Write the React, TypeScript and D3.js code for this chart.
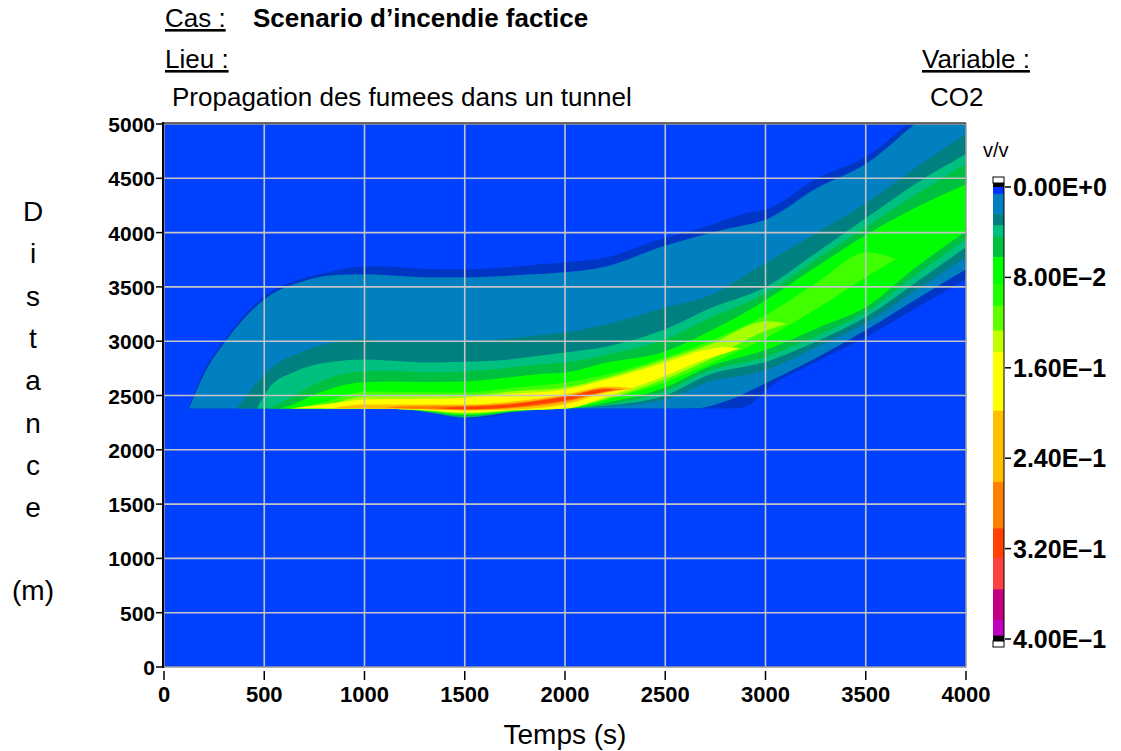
import * as d3 from 'd3';

// axes
const xTicks = [0, 500, 1000, 1500, 2000, 2500, 3000, 3500, 4000];
const yTicks = [0, 500, 1000, 1500, 2000, 2500, 3000, 3500, 4000, 4500, 5000];

// colour bar (v/v)
const legendLevels = [0, 0.006, 0.024, 0.034, 0.044, 0.062, 0.086, 0.105, 0.127, 0.146, 0.198, 0.261, 0.302, 0.328, 0.356, 0.383, 0.397];
const legendColors = ['#0030ff', '#0080c0', '#008080', '#00c080', '#00c040', '#00ff00', '#20ff00', '#60ff00', '#c0ff00', '#ffff00', '#ffc000', '#ff8000', '#ff4000', '#ff4040', '#c00080', '#c000c0'];
const legendTicks = [0, 0.08, 0.16, 0.24, 0.32, 0.4];
const legendLabels = ['0.00E+0', '8.00E\u20132', '1.60E\u20131', '2.40E\u20131', '3.20E\u20131', '4.00E\u20131'];

// CO2 bands: [temps s, distance basse m, distance haute m]
const rimBand = [
  [120, 2380, 2380], [195, 2380, 2714], [314, 2380, 3044], [414, 2380, 3266], [529, 2380, 3450],
  [678, 2380, 3570], [843, 2380, 3644], [1003, 2380, 3690], [1180, 2380, 3680], [1310, 2343, 3664],
  [1500, 2288, 3662], [1640, 2306, 3672], [1740, 2343, 3685], [1890, 2371, 3710], [2000, 2380, 3727],
  [2210, 2380, 3773], [2474, 2380, 3939], [2709, 2380, 4059], [2850, 2382, 4150], [2908, 2400, 4180],
  [3008, 2560, 4216], [3257, 2814, 4500], [3507, 3044, 4705], [3746, 3300, 5060], [4000, 3570, 5450],
];
const steelBand = [
  [125, 2380, 2380], [195, 2380, 2680], [314, 2380, 3017], [414, 2380, 3238], [529, 2380, 3422],
  [678, 2380, 3542], [843, 2380, 3607], [1003, 2380, 3616], [1180, 2380, 3600], [1310, 2346, 3590],
  [1500, 2295, 3589], [1740, 2346, 3605], [1890, 2372, 3620], [2000, 2380, 3634], [2210, 2380, 3690],
  [2474, 2380, 3865], [2650, 2382, 3960], [2798, 2445, 4030], [3008, 2620, 4124], [3257, 2850, 4410],
  [3507, 3109, 4640], [3746, 3380, 5003], [4000, 3662, 5380],
];
const tealBand = [
  [364, 2380, 2380], [464, 2380, 2620], [544, 2380, 2768], [678, 2380, 2897], [843, 2380, 2989],
  [1003, 2380, 3017], [1142, 2380, 2998], [1310, 2348, 2990], [1500, 2298, 2998], [1740, 2348, 3030],
  [1890, 2373, 3060], [2000, 2380, 3081], [2210, 2398, 3155], [2499, 2463, 3310], [2709, 2620, 3413],
  [3008, 2740, 3727], [3257, 2950, 4000], [3507, 3173, 4280], [3750, 3470, 4600], [4000, 3773, 4908],
];
const seaBand = [
  [464, 2380, 2380], [529, 2380, 2583], [643, 2380, 2712], [813, 2380, 2804], [1003, 2380, 2832],
  [1142, 2380, 2820], [1310, 2350, 2805], [1500, 2302, 2810], [1740, 2350, 2835], [1890, 2374, 2870],
  [2000, 2380, 2897], [2210, 2408, 2952], [2499, 2500, 3109], [2709, 2685, 3293], [3008, 2814, 3505],
  [3257, 3000, 3820], [3507, 3229, 4142], [3750, 3540, 4450], [4000, 3865, 4723],
];
const greenBand = [
  [529, 2380, 2380], [614, 2380, 2463], [728, 2380, 2583], [978, 2380, 2721], [1142, 2380, 2725],
  [1310, 2352, 2715], [1500, 2307, 2721], [1740, 2352, 2760], [1890, 2375, 2790], [2000, 2380, 2804],
  [2210, 2417, 2878], [2499, 2537, 3017], [2709, 2721, 3201], [3008, 2860, 3450], [3257, 3050, 3760],
  [3507, 3275, 4059], [3750, 3610, 4350], [4000, 3939, 4631],
];
const brightBand = [
  [579, 2380, 2380], [614, 2380, 2398], [778, 2380, 2528], [978, 2380, 2620], [1142, 2380, 2630],
  [1310, 2355, 2625], [1500, 2317, 2629], [1740, 2355, 2670], [1890, 2376, 2700], [2000, 2380, 2712],
  [2210, 2436, 2804], [2499, 2574, 2906], [2709, 2758, 3081], [3008, 2924, 3386], [3257, 3120, 3690],
  [3507, 3321, 3985], [3750, 3680, 4230], [4000, 4013, 4446],
];
const limeBand = [
  [650, 2380, 2380], [800, 2380, 2440], [1003, 2380, 2537], [1310, 2360, 2530], [1500, 2326, 2528],
  [1740, 2360, 2570], [2000, 2380, 2620], [2210, 2463, 2694], [2499, 2620, 2850], [2709, 2780, 2990],
  [3008, 3035, 3247], [3257, 3300, 3540], [3507, 3598, 3819], [3600, 3700, 3790], [3651, 3757, 3757],
];
const paleBand = [
  [800, 2380, 2380], [1003, 2380, 2491], [1310, 2362, 2495], [1500, 2335, 2500], [1740, 2362, 2540],
  [2000, 2380, 2574], [2210, 2472, 2666], [2499, 2650, 2830], [2709, 2820, 2960], [3008, 3100, 3183],
  [3108, 3160, 3160],
];
const yellowBand = [
  [628, 2380, 2380], [850, 2380, 2430], [1003, 2380, 2463], [1310, 2365, 2470], [1500, 2343, 2480],
  [1740, 2365, 2515], [2000, 2380, 2555], [2210, 2491, 2648], [2499, 2680, 2804], [2709, 2840, 2924],
  [2800, 2890, 2945], [2873, 2935, 2935],
];
const amberBand = [
  [830, 2380, 2380], [1003, 2380, 2417], [1310, 2370, 2417], [1500, 2362, 2417], [1740, 2370, 2445],
  [2000, 2417, 2509], [2210, 2528, 2583], [2349, 2565, 2565],
];
const orangeBand = [
  [1100, 2390, 2390], [1310, 2375, 2405], [1500, 2368, 2405], [1740, 2385, 2430], [2000, 2440, 2495],
  [2210, 2535, 2570], [2300, 2555, 2555],
];
const redBand = [
  [1352, 2385, 2385], [1500, 2372, 2398], [1740, 2395, 2420], [2000, 2455, 2490], [2210, 2540, 2560],
  [2250, 2550, 2550],
];

const bands = [rimBand, steelBand, tealBand, seaBand, greenBand, brightBand, limeBand, paleBand, yellowBand, amberBand, orangeBand, redBand];
const bandColors = ['#0036c4', '#0080c0', '#008080', '#00c080', '#00c040', '#00ff00', '#40ff00', '#a8ff00', '#ffff00', '#ffc000', '#ff8000', '#ff4000'];

const FONT = '"Liberation Sans", Arial, Helvetica, sans-serif';
const yTitle = ['D', 'i', 's', 't', 'a', 'n', 'c', 'e'];

const App = () => {
  const W = 1121, H = 751;
  const left = 164, right = 966, top = 124, bottom = 667;

  const x = d3.scaleLinear().domain([0, 4000]).range([left, right]);
  const y = d3.scaleLinear().domain([0, 5000]).range([bottom, top]);
  const c = d3.scaleLinear().domain([0, 0.4]).range([187, 639]);

  const area = d3.area<number[]>()
    .x(d => x(d[0]))
    .y0(d => y(d[1]))
    .y1(d => y(d[2]))
    .curve(d3.curveMonotoneX);

  const barX = 993, barW = 11;

  return (
    <svg width={W} height={H} style={{ position: 'absolute', left: 0, top: 0, background: '#fff' }} fontFamily={FONT}>
      <defs>
        <clipPath id="plot">
          <rect x={left} y={top} width={right - left} height={bottom - top} />
        </clipPath>
      </defs>

      {/* header */}
      <text x={165} y={27} fontSize={26} textDecoration="underline">Cas :</text>
      <text x={253} y={27} fontSize={26} fontWeight="bold">Scenario d’incendie factice</text>
      <text x={165} y={68} fontSize={26} textDecoration="underline">Lieu :</text>
      <text x={922} y={68} fontSize={26} textDecoration="underline">Variable :</text>
      <text x={172} y={106} fontSize={26}>Propagation des fumees dans un tunnel</text>
      <text x={930} y={106} fontSize={26}>CO2</text>

      {/* map */}
      <rect x={left} y={top} width={right - left} height={bottom - top} fill="#0040ff" />
      <g clipPath="url(#plot)">
        {bands.map((b, i) => (
          <path key={i} d={area(b) || ''} fill={bandColors[i]} />
        ))}
      </g>

      {/* grid */}
      <g stroke="#c4c4c4" strokeWidth={1.6}>
        {xTicks.slice(1, -1).map(t => <line key={t} x1={x(t)} x2={x(t)} y1={top} y2={bottom} />)}
        {yTicks.slice(1, -1).map(t => <line key={t} x1={left} x2={right} y1={y(t)} y2={y(t)} />)}
      </g>
      <rect x={left} y={top} width={right - left} height={bottom - top} fill="none" stroke="#9a9a9a" strokeWidth={1.5} />
      <line x1={left} x2={right} y1={top - 1} y2={top - 1} stroke="#404040" strokeWidth={1.5} />
      <line x1={left - 1} x2={left - 1} y1={top - 2} y2={bottom + 1} stroke="#000" strokeWidth={2} />

      {/* x axis */}
      {xTicks.map(t => (
        <g key={t}>
          <line x1={x(t)} x2={x(t)} y1={671} y2={680} stroke="#000" strokeWidth={1.5} />
          <text x={x(t)} y={702} fontSize={22} fontWeight="bold" textAnchor="middle">{t}</text>
        </g>
      ))}
      <text x={x(2000)} y={744} fontSize={28} textAnchor="middle">Temps (s)</text>

      {/* y axis */}
      {yTicks.map(t => (
        <g key={t}>
          <line x1={156} x2={162} y1={y(t)} y2={y(t)} stroke="#000" strokeWidth={1.5} />
          <text x={155} y={y(t) + 8} fontSize={21} fontWeight="bold" textAnchor="end">{t}</text>
        </g>
      ))}
      {yTitle.map((ch, i) => (
        <text key={i} x={33} y={221 + i * 42.3} fontSize={28} textAnchor="middle">{ch}</text>
      ))}
      <text x={33} y={600} fontSize={28} textAnchor="middle">(m)</text>

      {/* colour bar */}
      <text x={983} y={157} fontSize={20}>v/v</text>
      <rect x={barX} y={177} width={barW} height={6} fill="#fff" stroke="#000" strokeWidth={1} />
      <rect x={barX} y={183} width={barW} height={c(0) - 183} fill="#000" />
      {legendColors.map((col, i) => (
        <rect key={col} x={barX} y={c(legendLevels[i])} width={barW}
          height={c(legendLevels[i + 1]) - c(legendLevels[i]) + 0.5} fill={col} />
      ))}
      <rect x={barX} y={c(legendLevels[legendLevels.length - 1])} width={barW}
        height={c(0.4) + 2 - c(legendLevels[legendLevels.length - 1])} fill="#000" />
      <rect x={barX} y={c(0.4) + 2} width={barW} height={6} fill="#fff" stroke="#000" strokeWidth={1} />
      <line x1={barX + barW} x2={barX + barW} y1={183} y2={c(0.4) + 2} stroke="#000" strokeWidth={1} />
      {legendTicks.map((v, i) => (
        <g key={v}>
          <line x1={barX + barW + 1} x2={barX + barW + 7} y1={c(v)} y2={c(v)} stroke="#000" strokeWidth={1.5} />
          <text x={barX + barW + 9} y={c(v) + 9} fontSize={25} fontWeight="bold">{legendLabels[i]}</text>
        </g>
      ))}
    </svg>
  );
};

export default App;
